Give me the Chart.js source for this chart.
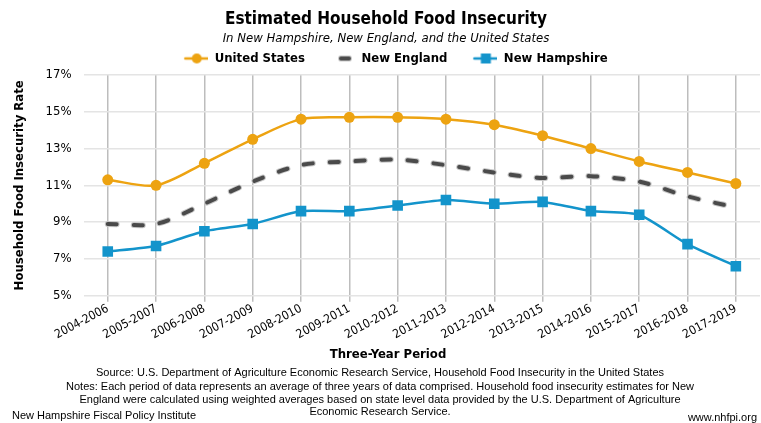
<!DOCTYPE html>
<html>
<head>
<meta charset="utf-8">
<script src="https://cdn.jsdelivr.net/npm/chart.js@4"></script>
<style>
  html, body { margin: 0; padding: 0; background: #fff; }
  #wrap { width: 761px; height: 423px; }
</style>
</head>
<body>
<div id="wrap"><canvas id="foodChart" width="761" height="423"></canvas></div>
<script>
// data
var periods = ['2004-2006', '2005-2007', '2006-2008', '2007-2009', '2008-2010', '2009-2011', '2010-2012',
	'2011-2013', '2012-2014', '2013-2015', '2014-2016', '2015-2017', '2016-2018', '2017-2019'];
var unitedStates = [11.3, 11.0, 12.2, 13.5, 14.6, 14.7, 14.7, 14.6, 14.3, 13.7, 13.0, 12.3, 11.7, 11.1];
var newEngland = [8.9, 8.9, 10.0, 11.2, 12.1, 12.3, 12.4, 12.1, 11.7, 11.4, 11.5, 11.2, 10.4, 9.8];
var newHampshire = [7.4, 7.7, 8.5, 8.9, 9.6, 9.6, 9.9, 10.2, 10.0, 10.1, 9.6, 9.4, 7.8, 6.6];
var yTicks = [5, 7, 9, 11, 13, 15, 17];

var FONT = "'DejaVu Sans Condensed', 'DejaVu Sans', Tahoma, sans-serif";
var NARROW = "'Liberation Sans Narrow', 'Arial Narrow', 'Liberation Sans', sans-serif";
var ORANGE = '#EDA311';
var BLUE = '#1394CB';
var DARK = '#4a4a4a';

// legend icons (left part of the canvas is empty, used as spacing between items)
function makeIcon(kind, color) {
	var c = document.createElement('canvas');
	c.width = 44; c.height = 14;
	var g = c.getContext('2d');
	g.lineCap = 'round';
	if (kind === 'dash') {
		g.strokeStyle = '#c8c8c8'; g.lineWidth = 6;
		g.beginPath(); g.moveTo(30, 7); g.lineTo(38, 7); g.stroke();
		g.strokeStyle = DARK; g.lineWidth = 4;
		g.beginPath(); g.moveTo(30, 7); g.lineTo(38, 7); g.stroke();
		return c;
	}
	g.strokeStyle = color; g.lineWidth = 2.5;
	g.beginPath(); g.moveTo(21, 7); g.lineTo(44, 7); g.stroke();
	g.fillStyle = color;
	if (kind === 'circle') {
		g.beginPath(); g.arc(32.5, 7, 5, 0, Math.PI * 2); g.fill();
	} else {
		g.fillRect(27.5, 2, 10, 10);
	}
	return c;
}
var icons = [makeIcon('circle', ORANGE), makeIcon('dash'), makeIcon('rect', BLUE)];

// axis title for x and the footer lines
var footerPlugin = {
	id: 'footerText',
	afterDraw: function(chart) {
		var ctx = chart.ctx;
		ctx.save();
		ctx.fillStyle = '#000';
		ctx.textBaseline = 'middle';
		ctx.textAlign = 'center';
		ctx.font = 'bold 13px ' + FONT;
		ctx.fillText('Three-Year Period', 388, 355);
		ctx.font = '11px ' + NARROW;
		ctx.fillText('Source: U.S. Department of Agriculture Economic Research Service, Household Food Insecurity in the United States', 380, 373);
		ctx.fillText('Notes: Each period of data represents an average of three years of data comprised. Household food insecurity estimates for New', 380, 387);
		ctx.fillText('England were calculated using weighted averages based on state level data provided by the U.S. Department of Agriculture', 380, 400);
		ctx.fillText('Economic Research Service.', 380, 412);
		ctx.textAlign = 'left';
		ctx.fillText('New Hampshire Fiscal Policy Institute', 12, 416);
		ctx.textAlign = 'right';
		ctx.fillText('www.nhfpi.org', 757, 418);
		ctx.restore();
	}
};

var ctx1 = document.getElementById('foodChart');
var lineChart = new Chart(ctx1, {
	type: 'line',
	data: {
		labels: periods,
		datasets: [{
			label: 'United States',
			data: unitedStates,
			borderColor: ORANGE,
			backgroundColor: ORANGE,
			borderWidth: 2.5,
			pointStyle: 'circle',
			pointRadius: 5.5,
			pointBorderWidth: 0,
			tension: 0.3
		},
		{
			label: 'New England',
			data: newEngland,
			borderColor: DARK,
			backgroundColor: DARK,
			borderWidth: 4,
			borderDash: [9, 17],
			borderCapStyle: 'round',
			pointRadius: 0,
			tension: 0.3
		},
		{
			label: 'outline',
			data: newEngland,
			borderColor: '#c8c8c8',
			borderWidth: 6,
			borderDash: [9, 17],
			borderCapStyle: 'round',
			pointRadius: 0,
			tension: 0.3,
			order: 5
		},
		{
			label: 'New Hampshire',
			data: newHampshire,
			borderColor: BLUE,
			backgroundColor: BLUE,
			borderWidth: 2.5,
			pointStyle: 'rect',
			pointRadius: 7.5,
			pointBorderWidth: 0,
			tension: 0.2
		}]
	},
	options: {
		responsive: false,
		animation: false,
		layout: {
			autoPadding: false,
			padding: { left: 12, right: 1, top: 0, bottom: 81 }
		},
		plugins: {
			title: {
				display: true,
				text: 'Estimated Household Food Insecurity',
				color: '#000',
				font: { family: FONT, size: 17, weight: 'bold' },
				padding: { top: 9, bottom: 0 }
			},
			subtitle: {
				display: true,
				text: 'In New Hampshire, New England, and the United States',
				color: '#000',
				font: { family: FONT, size: 13, style: 'italic' },
				padding: { top: 1, bottom: 0 }
			},
			legend: {
				position: 'top',
				labels: {
					usePointStyle: true,
					pointStyleWidth: 44,
					padding: 6,
					color: '#000',
					font: { family: FONT, size: 13, weight: 'bold' },
					filter: function(item) { return item.text !== 'outline'; },
					generateLabels: function(chart) {
						var items = Chart.defaults.plugins.legend.labels.generateLabels(chart);
						var n = 0;
						items.forEach(function(it) {
							if (it.text !== 'outline') { it.pointStyle = icons[n]; n++; }
						});
						return items;
					}
				}
			},
			tooltip: { enabled: false }
		},
		scales: {
			x: {
				offset: true,
				afterFit: function(scale) {
					// rotated labels end at the tick, no extra room needed on the right
					scale.paddingRight = 0;
				},
				grid: {
					offset: false,
					color: '#bdbdbd',
					lineWidth: 1.5,
					drawTicks: true,
					tickLength: 6
				},
				border: { display: false },
				ticks: {
					color: '#000',
					font: { family: FONT, size: 12 },
					maxRotation: 28,
					minRotation: 28,
					padding: 0
				}
			},
			y: {
				min: 5,
				max: 17,
				afterBuildTicks: function(scale) {
					scale.ticks = yTicks.map(function(v) { return { value: v }; });
				},
				grid: {
					color: '#e4e4e4',
					lineWidth: 1.5,
					drawTicks: false
				},
				border: { display: false },
				ticks: {
					color: '#000',
					padding: 12,
					font: { family: FONT, size: 13 },
					callback: function(v) { return v + '%'; }
				},
				title: {
					display: true,
					text: 'Household Food Insecurity Rate',
					color: '#000',
					font: { family: FONT, size: 13, weight: 'bold' },
					padding: { top: 0, bottom: 6 }
				}
			}
		}
	},
	plugins: [footerPlugin]
});
</script>
</body>
</html>
